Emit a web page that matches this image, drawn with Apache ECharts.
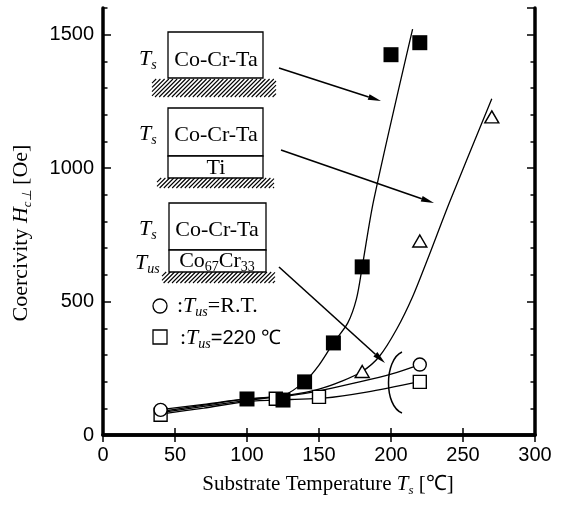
<!DOCTYPE html>
<html>
<head>
<meta charset="utf-8">
<script src="https://cdn.jsdelivr.net/npm/echarts@6/dist/echarts.min.js"></script>
<style>
  html, body { margin: 0; padding: 0; background: #fff; }
  #chart { width: 563px; height: 509px; }
</style>
</head>
<body>
<div id="chart"></div>
<script>
// measured points (Ts in °C, Hc in Oe)
const filledSqX = [100, 125, 140, 160, 180, 200, 220]
const filledSqY = [135, 131, 199, 345, 630, 1425, 1470]
const triX = [180, 220, 270]
const triY = [238, 727, 1192]
const circX = [40, 220]
const circY = [94, 264]
const openSqX = [40, 120, 150, 220]
const openSqY = [76, 136, 143, 199]

// hand drawn guide curves
const fitAX = [40, 70, 100, 125, 140, 150, 160, 170, 176, 180, 188, 215]
const fitAY = [88, 112, 135, 148, 200, 262, 345, 420, 510, 630, 880, 1521]
const fitBX = [40, 70, 100, 130, 150, 165, 180, 192, 204, 215, 225, 241, 270]
const fitBY = [84, 107, 130, 150, 172, 200, 238, 295, 397, 518, 653, 877, 1260]
const fitCX = [40, 70, 100, 130, 150, 175, 200, 220]
const fitCY = [95, 115, 135, 148, 165, 195, 228, 264]
const fitDX = [40, 70, 100, 130, 153, 183, 220]
const fitDY = [78, 101, 125, 133, 138, 161, 200]

const zip = (xs, ys) => xs.map((x, i) => [x, ys[i]])

const SERIF = '"Liberation Serif", "Times New Roman", serif'
const SANS = '"Liberation Sans", Arial, sans-serif'

const chart = echarts.init(document.getElementById('chart'))

// hatching for the substrate bands (short diagonal strokes)
function hatch(x0, y0, w, h, step) {
  const out = []
  for (let k = -h; k < w; k += step) {
    let xa = x0 + k, ya = y0 + h, xb = x0 + k + h, yb = y0
    if (xa < x0) { ya -= (x0 - xa); xa = x0 }
    if (xb > x0 + w) { yb += (xb - (x0 + w)); xb = x0 + w }
    if (xb > xa) {
      out.push({ type: 'line', shape: { x1: xa, y1: ya, x2: xb, y2: yb }, style: { stroke: '#000', lineWidth: 1.1 } })
    }
  }
  return out
}

function arrow(x1, y1, x2, y2) {
  const a = Math.atan2(y2 - y1, x2 - x1)
  const L = 13, W = 3
  const bx = x2 - L * Math.cos(a), by = y2 - L * Math.sin(a)
  const px = -Math.sin(a) * W, py = Math.cos(a) * W
  return [
    { type: 'line', shape: { x1, y1, x2: bx, y2: by }, style: { stroke: '#000', lineWidth: 1.6 } },
    { type: 'polygon', shape: { points: [[x2, y2], [bx + px, by + py], [bx - px, by - py]] }, style: { fill: '#000' } }
  ]
}

function box(x, y, w, h) {
  return { type: 'rect', shape: { x, y, width: w, height: h }, style: { fill: '#fff', stroke: '#000', lineWidth: 1.3 } }
}

const rich = {
  n: { fontFamily: SERIF, fontSize: 22, color: '#000', lineHeight: 26, verticalAlign: 'middle' },
  i: { fontFamily: SERIF, fontSize: 22, fontStyle: 'italic', color: '#000', lineHeight: 26, verticalAlign: 'middle' },
  s: { fontFamily: SERIF, fontSize: 14, fontStyle: 'italic', color: '#000', lineHeight: 14, verticalAlign: 'bottom' },
  d: { fontFamily: SERIF, fontSize: 14, color: '#000', lineHeight: 14, verticalAlign: 'bottom' },
  f: { fontFamily: SANS, fontSize: 20, color: '#000', lineHeight: 26, verticalAlign: 'middle' }
}

function label(x, y, text, align) {
  return {
    type: 'text', x, y,
    style: { text, rich, align: align || 'center', textAlign: align || 'center', verticalAlign: 'middle', textVerticalAlign: 'middle' }
  }
}

const graphics = [
  // stack 1: Co-Cr-Ta on substrate
  ...hatch(152, 79, 124, 18, 4.2),
  box(168, 32, 95, 46),
  label(216, 60, '{n|Co-Cr-Ta}'),
  label(139, 59, '{i|T}{s|s}', 'left'),
  // stack 2: Co-Cr-Ta / Ti
  ...hatch(157, 178, 117, 10, 4.2),
  box(168, 108, 95, 48),
  box(168, 156, 95, 22),
  label(216, 135, '{n|Co-Cr-Ta}'),
  label(216, 168, '{n|Ti}'),
  label(139, 134, '{i|T}{s|s}', 'left'),
  // stack 3: Co-Cr-Ta / Co67Cr33
  ...hatch(162, 272, 113, 11, 4.2),
  box(169, 203, 97, 47),
  box(169, 250, 97, 22),
  label(217, 230, '{n|Co-Cr-Ta}'),
  label(217, 261, '{n|Co}{d|67}{n|Cr}{d|33}'),
  label(139, 229, '{i|T}{s|s}', 'left'),
  label(135, 263, '{i|T}{s|us}', 'left'),
  // symbol key
  { type: 'circle', shape: { cx: 160, cy: 306, r: 7 }, style: { fill: '#fff', stroke: '#000', lineWidth: 1.3 } },
  label(177, 306, '{n|:}{i|T}{s|us}{n|=R.T.}', 'left'),
  { type: 'rect', shape: { x: 153, y: 330, width: 14, height: 14 }, style: { fill: '#fff', stroke: '#000', lineWidth: 1.3 } },
  label(180, 338, '{n|:}{i|T}{s|us}{f|=220 ℃}', 'left'),
  // bracket grouping the open symbols
  { type: 'bezierCurve', shape: { x1: 402, y1: 352, cpx1: 384, cpy1: 360, cpx2: 384, cpy2: 406, x2: 402, y2: 413 }, style: { stroke: '#000', lineWidth: 1.5, fill: null } },
  ...arrow(279, 68, 381, 101),
  ...arrow(281, 150, 434, 203),
  ...arrow(279, 267, 385, 363),
  // y axis title
  {
    type: 'text', x: 21, y: 233, rotation: Math.PI / 2,
    style: {
      text: '{n|Coercivity }{i|H}{s|c⊥}{n| [Oe]}',
      rich: {
        n: { fontFamily: SERIF, fontSize: 22, color: '#000', lineHeight: 26, verticalAlign: 'middle' },
        i: { fontFamily: SERIF, fontSize: 22, fontStyle: 'italic', color: '#000', lineHeight: 26, verticalAlign: 'middle' },
        s: { fontFamily: SERIF, fontSize: 13, fontStyle: 'italic', color: '#000', lineHeight: 13, verticalAlign: 'bottom' }
      },
      align: 'center', textAlign: 'center', verticalAlign: 'middle', textVerticalAlign: 'middle'
    }
  }
]

const baseAxis = {
  type: 'value',
  splitLine: { show: false },
  axisLine: { show: false },
  axisLabel: { show: false },
  axisTick: { show: true, inside: true, length: 7, lineStyle: { color: '#000', width: 1.5 } }
}
const borderLine = { show: true, lineStyle: { color: '#000', width: 3.5 } }

const lineSeries = (xs, ys) => ({
  type: 'line',
  data: zip(xs, ys),
  showSymbol: false,
  smooth: 0.3,
  lineStyle: { color: '#000', width: 1.3 },
  z: 2,
  silent: true
})

const option = {
  animation: false,
  backgroundColor: '#fff',
  grid: { left: 103, right: 28, top: 8, bottom: 74 },
  xAxis: [
    {
      ...baseAxis, position: 'bottom', min: 0, max: 300, interval: 50,
      axisLine: borderLine,
      axisLabel: { show: true, fontFamily: SANS, fontSize: 20, color: '#000', margin: 10 },
      name: '{n|Substrate Temperature }{i|T}{s|s}{n| [℃]}',
      nameLocation: 'middle', nameGap: 36,
      nameTextStyle: {
        padding: [0, 0, 0, 18],
        rich: {
          n: { fontFamily: SERIF, fontSize: 21, color: '#000', lineHeight: 26, verticalAlign: 'middle' },
          i: { fontFamily: SERIF, fontSize: 21, fontStyle: 'italic', color: '#000', lineHeight: 26, verticalAlign: 'middle' },
          s: { fontFamily: SERIF, fontSize: 13, fontStyle: 'italic', color: '#000', lineHeight: 13, verticalAlign: 'bottom' }
        }
      }
    },
    { ...baseAxis, position: 'top', min: 0, max: 300, interval: 50, axisLine: borderLine }
  ],
  yAxis: [
    {
      ...baseAxis, position: 'left', min: 0, max: 1600, interval: 500,
      axisLine: borderLine,
      axisLabel: {
        show: true, showMaxLabel: false, fontFamily: SANS, fontSize: 20, color: '#000', margin: 9,
        formatter: v => String(v)
      },
      axisTick: { show: true, inside: true, length: 8, lineStyle: { color: '#000', width: 1.5 } }
    },
    { ...baseAxis, position: 'left', min: 0, max: 1600, interval: 100, axisTick: { show: true, inside: true, length: 4.5, lineStyle: { color: '#000', width: 1.5 } } },
    {
      ...baseAxis, position: 'right', min: 0, max: 1600, interval: 500,
      axisLine: borderLine,
      axisTick: { show: true, inside: true, length: 8, lineStyle: { color: '#000', width: 1.5 } }
    },
    { ...baseAxis, position: 'right', min: 0, max: 1600, interval: 100, axisTick: { show: true, inside: true, length: 4.5, lineStyle: { color: '#000', width: 1.5 } } }
  ],
  series: [
    lineSeries(fitAX, fitAY),
    lineSeries(fitBX, fitBY),
    lineSeries(fitCX, fitCY),
    lineSeries(fitDX, fitDY),
    {
      type: 'scatter', data: zip(openSqX, openSqY), symbol: 'rect', symbolSize: 13, z: 3,
      itemStyle: { color: '#fff', borderColor: '#000', borderWidth: 1.4, opacity: 1 }
    },
    {
      type: 'scatter', data: zip(circX, circY), symbol: 'circle', symbolSize: 13, z: 4,
      itemStyle: { color: '#fff', borderColor: '#000', borderWidth: 1.4, opacity: 1 }
    },
    {
      type: 'scatter', data: zip(triX, triY), symbol: 'triangle', symbolSize: [14, 12], z: 3,
      itemStyle: { color: '#fff', borderColor: '#000', borderWidth: 1.4, opacity: 1 }
    },
    {
      type: 'scatter', data: zip(filledSqX, filledSqY), symbol: 'rect', symbolSize: 15, z: 5,
      itemStyle: { color: '#000', opacity: 1 }
    }
  ],
  graphic: graphics
}

chart.setOption(option)
</script>
</body>
</html>
